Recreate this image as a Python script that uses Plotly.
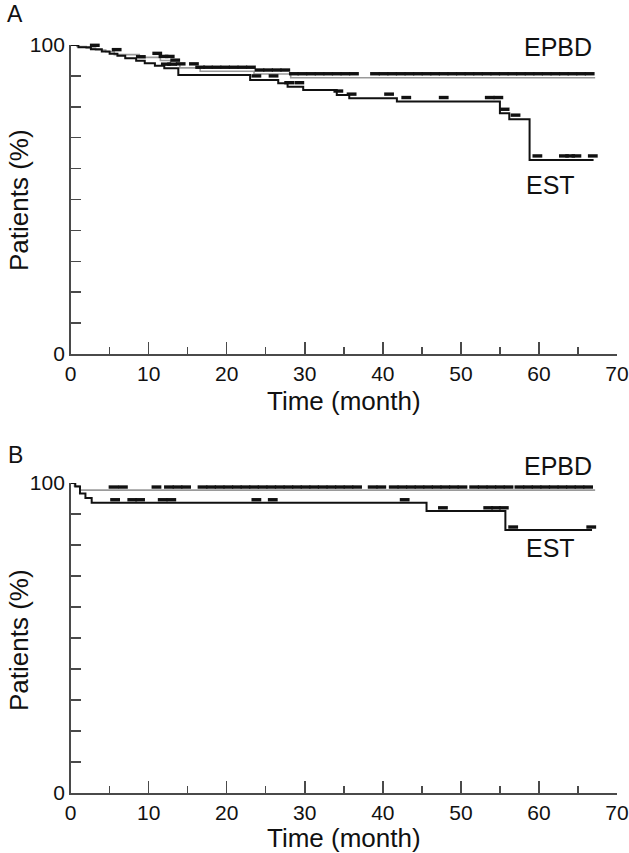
import numpy as np
import plotly.graph_objects as go

# ---------------- data ----------------
# Panel A : Kaplan-Meier steps (time in months, % patients after each step)
est_a_t = [0, 1.0, 2.6, 4.0, 5.0, 6.0, 7.0, 8.4, 9.5, 10.8, 12.0, 13.8, 23.0, 26.6,
           27.8, 29.8, 34.1, 35.7, 41.8, 55.0, 56.2, 58.8, 67.0]
est_a_s = [100, 99.3, 98.6, 97.9, 97.2, 96.5, 95.7, 94.9, 94.1, 93.3, 92.5, 90.3, 88.7,
           87.6, 86.5, 85.4, 83.8, 82.8, 81.7, 77.9, 76.0, 62.8, 62.8]
est_a_cens = [1.0, 3.1, 5.9, 9.0, 12.2, 13.0, 23.8, 26.0, 28.0, 29.3, 34.3, 36.0, 40.8,
              43.0, 47.8, 53.7, 54.8, 55.6, 57.0, 59.8, 63.2, 64.0, 64.8, 66.9]

epbd_a_t = [0, 0.8, 2.0, 3.2, 4.5, 5.6, 8.8, 11.5, 12.8, 14.0, 16.6, 23.5, 28.2, 67.2]
epbd_a_s = [100, 99.5, 99.0, 98.4, 97.8, 96.9, 96.0, 95.0, 93.8, 92.6, 91.5, 90.6, 89.4, 89.4]
epbd_a_cens = [0.8, 1.6, 2.3, 11.1, 11.9, 12.7, 13.4, 14.1, 15.8, 16.6, 17.6, 18.7, 19.8,
               20.9, 22.0, 23.1, 24.2, 25.3, 26.4, 27.5, 28.6, 29.7, 30.8, 31.9, 33.0,
               34.1, 35.2, 36.3, 39.0, 40.1, 41.2, 42.3, 43.4, 44.5, 45.6, 46.7, 47.8,
               48.9, 50.0, 51.1, 52.2, 53.3, 54.4, 55.5, 56.6, 57.7, 58.8, 59.9, 61.0,
               62.1, 63.2, 64.3, 65.4, 66.5]

# Panel B
est_b_t = [0, 0.6, 1.2, 1.9, 2.7, 45.6, 55.7, 66.8]
est_b_s = [100, 98.9, 96.6, 95.2, 93.6, 91.0, 84.8, 84.8]
est_b_cens = [5.7, 7.9, 8.9, 11.8, 12.9, 23.8, 25.9, 42.8, 47.7, 53.5, 54.5, 55.5, 56.7, 66.7]

epbd_b_t = [0, 0.5, 1.2, 67.2]
epbd_b_s = [100, 99.0, 97.7, 97.7]
epbd_b_cens = [5.5, 6.7, 11.0, 12.6, 13.7, 14.8, 16.9, 18.0, 19.1, 20.2, 21.3, 22.4, 23.5,
               24.6, 25.7, 26.8, 27.9, 29.0, 30.1, 31.2, 32.3, 33.4, 34.5, 35.6, 36.7,
               38.7, 39.8, 41.4, 42.5, 43.6, 44.7, 45.8, 46.9, 48.0, 49.1, 50.2, 51.7,
               52.8, 53.9, 55.0, 56.1, 57.5, 58.6, 59.7, 60.8, 61.9, 63.0, 64.1, 65.2, 66.3]

x_tick_vals = [0, 10, 20, 30, 40, 50, 60, 70]
x_tick_text = ["0", "10", "20", "30", "40", "50", "60", "70"]
y_tick_vals = [0, 100]
y_tick_text = ["0", "100"]
group_names = ["EPBD", "EST"]
panel_letters = ["A", "B"]
x_title = "Time (month)"
y_title = "Patients (%)"

# ---------------- styling ----------------
FONT = "Liberation Sans, Arial, sans-serif"
AXC = "#4a4a4a"
W, H = 629, 853
x_dom = [70.6 / W, 617 / W]
y_doms = [[1 - 354 / H, 1 - 45 / H], [1 - 793 / H, 1 - 483 / H]]
TICK_SIZE = 21
TITLE_SIZE = 26
LABEL_SIZE = 25


def surv_at(t_list, s_list, tc):
    t = np.asarray(t_list)
    s = np.asarray(s_list)
    idx = np.searchsorted(t, np.asarray(tc), side="right") - 1
    return s[np.clip(idx, 0, len(s) - 1)]


fig = go.Figure()

panels = [
    dict(est=(est_a_t, est_a_s, est_a_cens), epbd=(epbd_a_t, epbd_a_s, epbd_a_cens), off=1.3),
    dict(est=(est_b_t, est_b_s, est_b_cens), epbd=(epbd_b_t, epbd_b_s, epbd_b_cens), off=1.0),
]

for i, p in enumerate(panels):
    xa = "x" if i == 0 else "x2"
    ya = "y" if i == 0 else "y2"
    t, s, c = p["epbd"]
    fig.add_trace(go.Scatter(x=t, y=s, mode="lines", line=dict(color="#9a9a9a", width=1.6, shape="hv"),
                             xaxis=xa, yaxis=ya, showlegend=False, cliponaxis=False, name="EPBD"))
    fig.add_trace(go.Scatter(x=c, y=surv_at(t, s, c) + p["off"], mode="markers",
                             marker=dict(symbol="line-ew", size=7, line=dict(color="#111111", width=3.4)),
                             xaxis=xa, yaxis=ya, showlegend=False, cliponaxis=False, name="EPBD censored"))
    t, s, c = p["est"]
    fig.add_trace(go.Scatter(x=t, y=s, mode="lines", line=dict(color="#111111", width=2, shape="hv"),
                             xaxis=xa, yaxis=ya, showlegend=False, cliponaxis=False, name="EST"))
    fig.add_trace(go.Scatter(x=c, y=surv_at(t, s, c) + p["off"], mode="markers",
                             marker=dict(symbol="line-ew", size=7, line=dict(color="#111111", width=3.4)),
                             xaxis=xa, yaxis=ya, showlegend=False, cliponaxis=False, name="EST censored"))

xaxis_style = dict(domain=x_dom, range=[0, 70], showline=True, linecolor=AXC, linewidth=1.5,
                   ticks="inside", ticklen=12, tickwidth=1.5, tickcolor=AXC,
                   tickvals=x_tick_vals, ticktext=x_tick_text, ticklabelstandoff=0,
                   ticklabeloverflow="allow",
                   minor=dict(tickvals=[5, 15, 25, 35, 45, 55, 65], ticks="inside", ticklen=7,
                              tickwidth=1.5, tickcolor=AXC),
                   showgrid=False, zeroline=False, automargin=False,
                   tickfont=dict(family=FONT, size=TICK_SIZE, color="#111"), fixedrange=True)
yaxis_style = dict(range=[0, 100], showline=True, linecolor=AXC, linewidth=1.5,
                   ticks="", tickvals=y_tick_vals, ticktext=y_tick_text, ticklabelstandoff=0,
                   minor=dict(tickvals=[10, 20, 30, 40, 50, 60, 70, 80, 90], ticks="inside", ticklen=10,
                              tickwidth=1.5, tickcolor=AXC),
                   showgrid=False, zeroline=False, automargin=False,
                   tickfont=dict(family=FONT, size=TICK_SIZE, color="#111"), fixedrange=True)

fig.update_layout(
    width=W, height=H, margin=dict(l=0, r=0, t=0, b=0, autoexpand=False),
    paper_bgcolor="white", plot_bgcolor="white", showlegend=False, hovermode=False,
    xaxis=dict(anchor="y", **xaxis_style),
    yaxis=dict(anchor="x", domain=y_doms[0], **yaxis_style),
    xaxis2=dict(anchor="y2", **xaxis_style),
    yaxis2=dict(anchor="x2", domain=y_doms[1], **yaxis_style),
)

ann_font = dict(family=FONT, size=TITLE_SIZE, color="#111")
lab_font = dict(family=FONT, size=LABEL_SIZE, color="#111")
annotations = []
letter_y = [14, 455]
ytitle_y = [200, 640]
xtitle_y = [401, 838]
epbd_y = [47, 466]
est_y = [185, 548]
for i in range(2):
    annotations.append(dict(text=panel_letters[i], xref="paper", yref="paper", x=15 / W,
                            y=1 - letter_y[i] / H, xanchor="center", yanchor="middle", showarrow=False,
                            font=dict(family=FONT, size=23, color="#111")))
    annotations.append(dict(text=y_title, xref="paper", yref="paper", x=19 / W, y=1 - ytitle_y[i] / H,
                            textangle=-90, xanchor="center", yanchor="middle", showarrow=False, font=ann_font))
    annotations.append(dict(text=x_title, xref="paper", yref="paper", x=(x_dom[0] + x_dom[1]) / 2,
                            y=1 - xtitle_y[i] / H, xanchor="center", yanchor="middle", showarrow=False,
                            font=ann_font))
    annotations.append(dict(text=group_names[0], xref="paper", yref="paper", x=558 / W, y=1 - epbd_y[i] / H,
                            showarrow=False, xanchor="center", yanchor="middle", font=lab_font))
    annotations.append(dict(text=group_names[1], xref="paper", yref="paper", x=550 / W, y=1 - est_y[i] / H,
                            showarrow=False, xanchor="center", yanchor="middle", font=lab_font))
fig.update_layout(annotations=annotations)

# remove the default 8px body margin so the figure sits at the window origin
fig.write_html("out.html", config={"displayModeBar": False, "staticPlot": True},
               post_script="document.body.style.margin='0';document.body.style.overflow='hidden';")
